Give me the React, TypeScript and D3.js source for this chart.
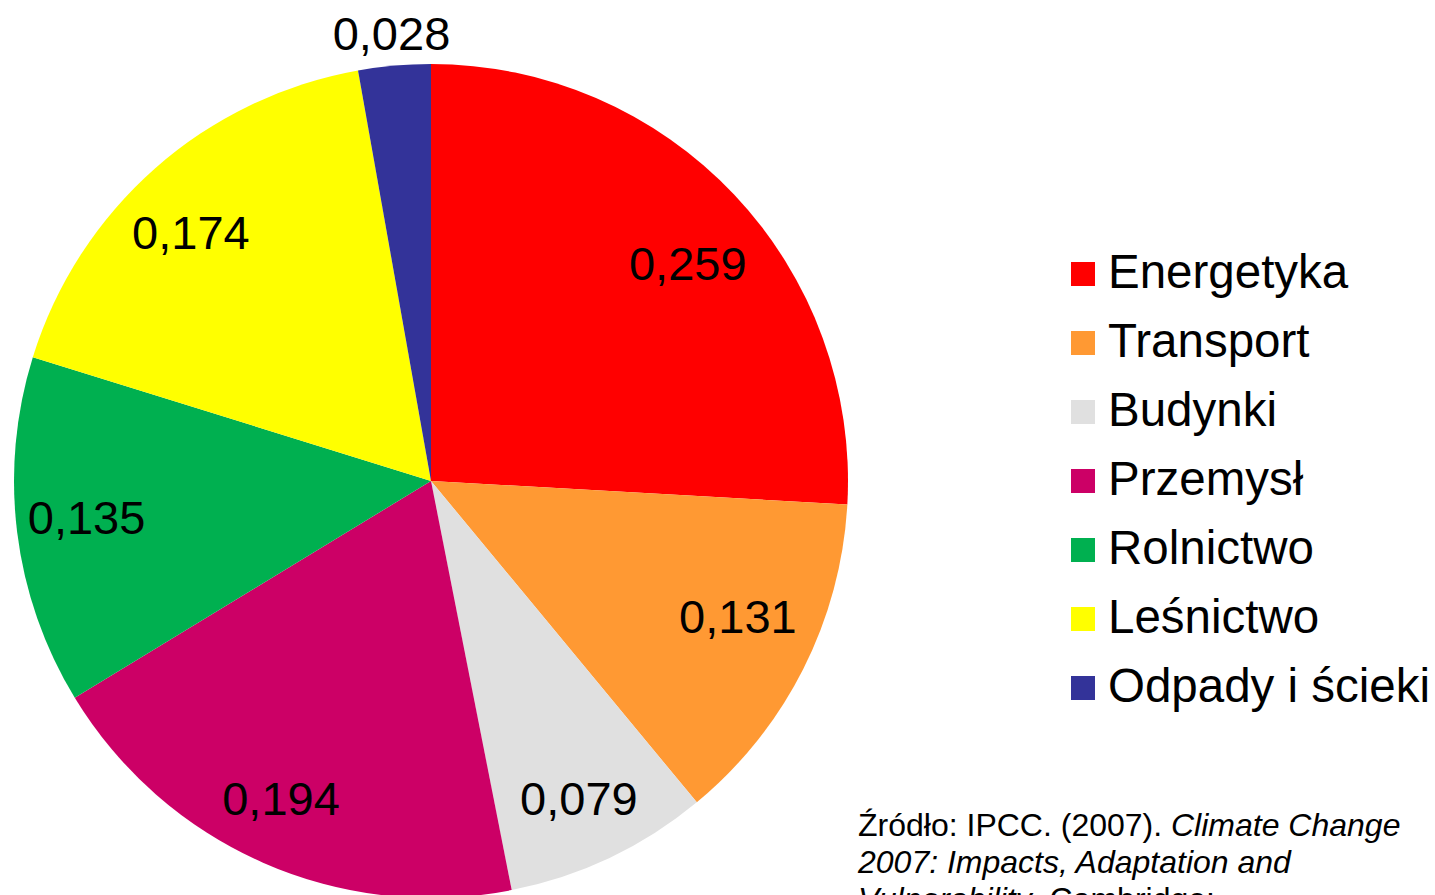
import React from "react";
import * as d3 from "d3";

const categories = ["Energetyka", "Transport", "Budynki", "Przemysł", "Rolnictwo", "Leśnictwo", "Odpady i ścieki"];
const values = [0.259, 0.131, 0.079, 0.194, 0.135, 0.174, 0.028];
const colors = ["#FF0000", "#FF9933", "#E0E0E0", "#CC0066", "#00B050", "#FFFF00", "#333399"];
const sourceLines = [
  [{ t: "Źródło: IPCC. (2007). ", i: false }, { t: "Climate Change", i: true }],
  [{ t: "2007: Impacts, Adaptation and", i: true }],
  [{ t: "Vulnerability", i: true }, { t: ". Cambridge:", i: false }],
];

// best-fit style nudges for the inside data labels (pixels)
const labelNudge: [number, number][] = [[6, 19], [-1, -20], [0, 5], [-11, 1], [-2, -6], [-12, 10], [0, 0]];

const W = 1435;
const H = 895;
const FONT = "'Liberation Sans', Arial, sans-serif";

export default function App() {
  const cx = 431, cy = 481, r = 417;
  const fs = 47;
  const pie = d3.pie<number>().sort(null).value((d) => d);
  const arcs = pie(values);
  const arc = d3.arc<d3.PieArcDatum<number>>().innerRadius(0).outerRadius(r);
  const labelArc = d3.arc<d3.PieArcDatum<number>>().innerRadius(345).outerRadius(345);
  const outArc = d3.arc<d3.PieArcDatum<number>>().innerRadius(r + 33).outerRadius(r + 33);
  const fmt = (v: number) => v.toFixed(3).replace(".", ",");
  const legendY = d3.scaleLinear().domain([0, 1]).range([274, 343]);

  return (
    <svg width={W} height={H} style={{ position: "absolute", left: 0, top: 0, background: "#fff" }} fontFamily={FONT}>
      <g transform={`translate(${cx},${cy})`}>
        {arcs.map((a, i) => (
          <path key={i} d={arc(a) || ""} fill={colors[i]} />
        ))}
        {arcs.map((a, i) => {
          const small = a.data < 0.05;
          const [x, y] = small ? outArc.centroid(a) : labelArc.centroid(a);
          const [dx, dy] = labelNudge[i];
          return (
            <text key={i} x={x + dx} y={y + dy + fs * 0.358} textAnchor="middle" fontSize={fs} fill="#000">
              {fmt(a.data)}
            </text>
          );
        })}
      </g>
      <g>
        {categories.map((c, i) => (
          <g key={c}>
            <rect x={1071} y={legendY(i) - 12} width={24} height={24} fill={colors[i]} />
            <text x={1108} y={legendY(i) + 14} fontSize={47.5} fill="#000">{c}</text>
          </g>
        ))}
      </g>
      <g>
        {sourceLines.map((line, li) => (
          <text key={li} x={858} y={836 + li * 37} fontSize={32} fill="#000">
            {line.map((s, si) => (
              <tspan key={si} fontStyle={s.i ? "italic" : "normal"}>{s.t}</tspan>
            ))}
          </text>
        ))}
      </g>
    </svg>
  );
}
